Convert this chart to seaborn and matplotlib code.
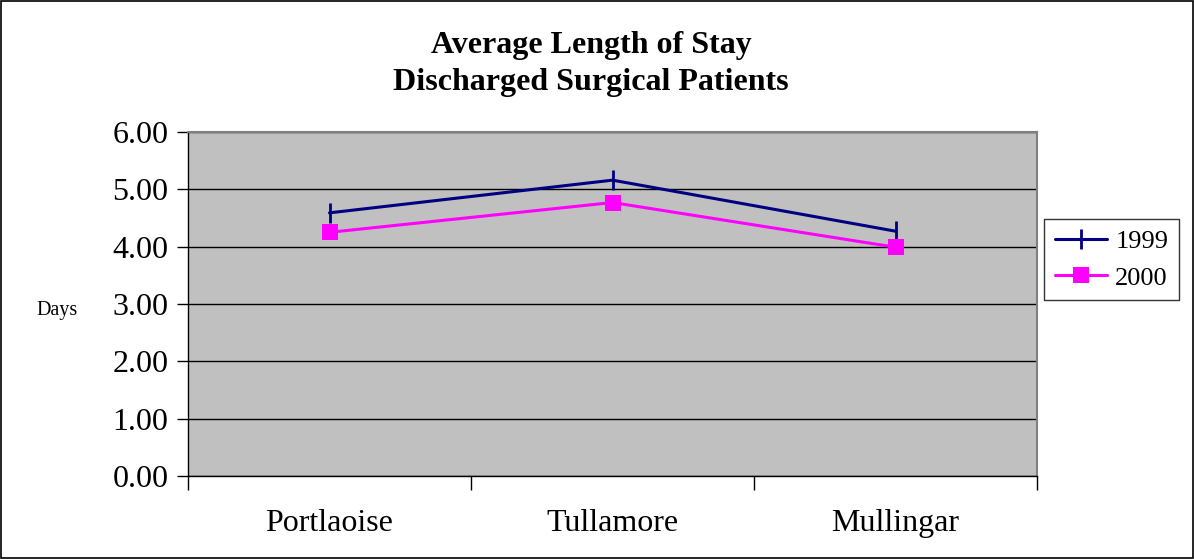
import matplotlib
matplotlib.use('Agg')
import matplotlib.pyplot as plt
import seaborn as sns
import pandas as pd
from matplotlib.patches import Rectangle
from matplotlib.ticker import FixedLocator, NullFormatter

# data
hospitals = ['Portlaoise', 'Tullamore', 'Mullingar']
stay_1999 = [4.59, 5.16, 4.27]
stay_2000 = [4.25, 4.77, 3.99]
years = ['1999', '2000']
y_ticks = [0, 1, 2, 3, 4, 5, 6]

sns.set_style('white')
plt.rcParams['font.family'] = ['Liberation Serif', 'DejaVu Serif']
plt.rcParams['text.color'] = 'black'
plt.rcParams['xtick.color'] = 'black'
plt.rcParams['ytick.color'] = 'black'

fig = plt.figure(figsize=(11.94, 5.59), dpi=100)
ax = fig.add_axes([188 / 1194, 1 - 476 / 559, (1037 - 188) / 1194, (476 - 132) / 559])
ax.set_facecolor('#C0C0C0')

styles = {
    '1999': dict(color='#000080', marker='|', markersize=14, markeredgewidth=2,
                 markeredgecolor='#000080'),
    '2000': dict(color='#FF00FF', marker='s', markersize=11, markeredgewidth=0,
                 markerfacecolor='#FF00FF'),
}
series = {'1999': stay_1999, '2000': stay_2000}

for yr in years:
    df = pd.DataFrame({'hospital': hospitals, 'days': series[yr]})
    sns.lineplot(data=df, x='hospital', y='days', ax=ax, lw=2.2, label=yr, **styles[yr])

ax.set_xlim(-0.5, 2.5)
ax.set_ylim(0, 6)
ax.set_yticks(y_ticks)
ax.set_yticklabels([f'{v:.2f}' for v in y_ticks], fontsize=23)
ax.grid(axis='y', color='black', lw=1)
ax.set_axisbelow(True)

# category labels centred, tick marks at the boundaries
ax.xaxis.set_major_locator(FixedLocator([-0.5, 0.5, 1.5, 2.5]))
ax.xaxis.set_major_formatter(NullFormatter())
ax.xaxis.set_minor_locator(FixedLocator([0, 1, 2]))
ax.set_xticklabels(hospitals, minor=True, fontsize=23)
ax.tick_params(axis='x', which='major', direction='out', length=10, width=1, color='black', bottom=True)
ax.tick_params(axis='x', which='minor', length=0, pad=24)
ax.tick_params(axis='y', direction='out', length=8, width=1, color='black', left=True, pad=6)

ax.set_xlabel('')
ax.set_ylabel('')
for side in ['top', 'right']:
    ax.spines[side].set_color('#808080')
    ax.spines[side].set_linewidth(1.5)
for side in ['left', 'bottom']:
    ax.spines[side].set_color('black')
    ax.spines[side].set_linewidth(1)

fig.text(57 / 1194, 1 - 311 / 559, 'Days', fontsize=14.5, ha='center', va='center')
fig.text(591 / 1194, 1 - 64 / 559, 'Average Length of Stay\nDischarged Surgical Patients',
         fontsize=23, fontweight='bold', ha='center', va='center', linespacing=1.32)

leg = ax.legend(loc='upper left', bbox_to_anchor=(1044 / 1194, 1 - 219 / 559),
                bbox_transform=fig.transFigure, fontsize=19, frameon=True, fancybox=False,
                handlelength=2.0, handletextpad=0.3, borderpad=0.4, labelspacing=0.5,
                borderaxespad=0)
leg.get_frame().set_edgecolor('black')
leg.get_frame().set_linewidth(1)

# outer frame around the whole chart
fig.patches.append(Rectangle((0.0008, 0.001), 0.998, 0.997, transform=fig.transFigure,
                             fill=False, edgecolor='black', lw=1.2))

fig.savefig('out.png', dpi=100)
plt.close(fig)
